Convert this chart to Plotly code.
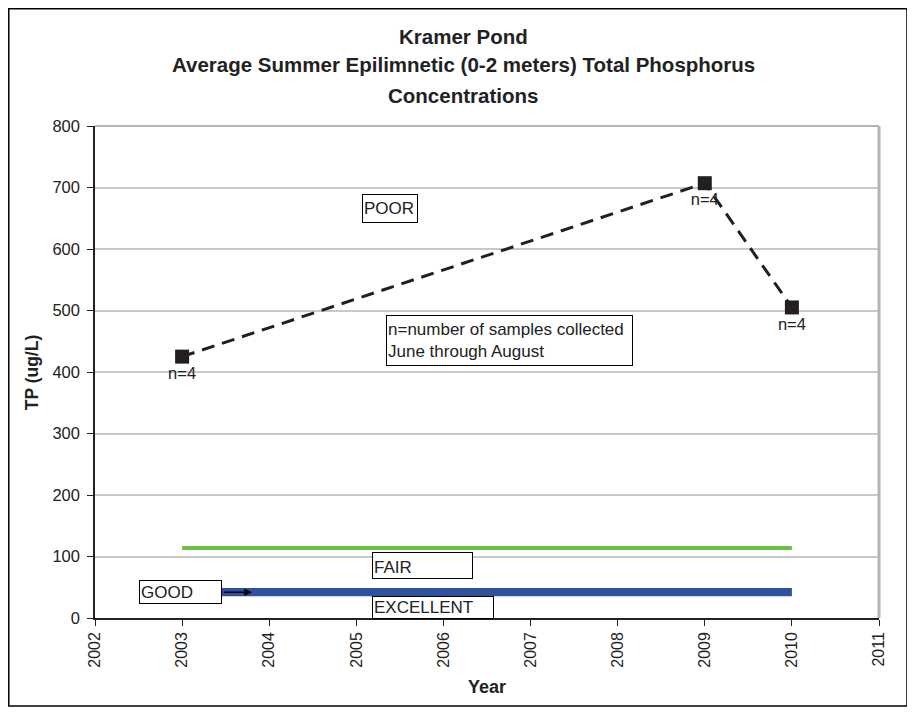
import plotly.graph_objects as go

# ---- data ----
years = [2003, 2009, 2010]
tp_values = [425, 707, 505]
n_labels = ["n=4", "n=4", "n=4"]

threshold_years = [2003, 2010]
fair_poor_line = [114, 114]
excellent_good_upper = [45, 45]
excellent_good_lower = [39, 39]

x_ticks = list(range(2002, 2012))
y_ticks = list(range(0, 801, 100))

title_lines = ["Kramer Pond",
               "Average Summer Epilimnetic (0-2 meters) Total Phosphorus",
               "Concentrations"]
x_title = "Year"
y_title = "TP (ug/L)"

FONT = "Liberation Sans, Arial, sans-serif"
TXT = "#222"

fig = go.Figure()

fig.add_trace(go.Scatter(x=threshold_years, y=fair_poor_line, mode="lines",
                         line=dict(color="#6abf45", width=4), showlegend=False, hoverinfo="skip"))
fig.add_trace(go.Scatter(x=threshold_years, y=excellent_good_lower, mode="lines",
                         line=dict(color="#2f52a0", width=4.5), showlegend=False, hoverinfo="skip"))
fig.add_trace(go.Scatter(x=threshold_years, y=excellent_good_upper, mode="lines",
                         line=dict(color="#2f52a0", width=4.5), showlegend=False, hoverinfo="skip"))

fig.add_trace(go.Scatter(
    x=years, y=tp_values, mode="lines+markers+text",
    line=dict(color="#231f20", width=3, dash="13px,8px"),
    marker=dict(symbol="square", size=14, color="#231f20"),
    text=n_labels, textposition="bottom center",
    textfont=dict(family=FONT, size=16.5, color=TXT),
    showlegend=False,
))

box_style = dict(bordercolor="#000", borderwidth=1, borderpad=1, bgcolor="white",
                 showarrow=False, xref="x", yref="y", xanchor="left", yanchor="top",
                 align="left", font=dict(family=FONT, size=17, color=TXT))

fig.add_annotation(text="POOR", x=2005.07, y=689, width=52, height=25, valign="middle", **box_style)
fig.add_annotation(text="n=number of samples collected<br>June through August",
                   x=2005.34, y=493, width=243, height=47, valign="middle", **box_style)
fig.add_annotation(text="FAIR", x=2005.18, y=107, width=97, height=23, valign="bottom", **box_style)
fig.add_annotation(text="GOOD", x=2002.51, y=62, width=79, height=20, valign="bottom", **box_style)
fig.add_annotation(text="EXCELLENT", x=2005.18, y=36, width=118, height=19, valign="bottom", **box_style)

# arrow from GOOD box
fig.add_annotation(x=2003.8, y=42, ax=2003.46, ay=42, xref="x", yref="y", axref="x", ayref="y",
                   text="", showarrow=True, arrowhead=2, arrowsize=1, arrowwidth=1.5, arrowcolor="#000")

# title lines
title_y = [1.181, 1.124, 1.063]
for line, ty in zip(title_lines, title_y):
    fig.add_annotation(text="<b>" + line + "</b>", xref="paper", yref="paper", x=0.47, y=ty,
                       xanchor="center", yanchor="middle", showarrow=False,
                       font=dict(family=FONT, size=20.5, color=TXT))

# axis titles
fig.add_annotation(text="<b>" + y_title + "</b>", xref="paper", yref="paper", x=-0.080, y=0.5,
                   textangle=-90, xanchor="center", yanchor="middle", showarrow=False,
                   font=dict(family=FONT, size=17.5, color=TXT))
fig.add_annotation(text="<b>" + x_title + "</b>", xref="paper", yref="paper", x=0.5, y=-0.140,
                   xanchor="center", yanchor="middle", showarrow=False,
                   font=dict(family=FONT, size=18, color=TXT))

# plot area top/right border
fig.add_shape(type="line", xref="x domain", yref="y domain", x0=0, x1=1, y0=1, y1=1,
              line=dict(color="#b4b4b4", width=2))
fig.add_shape(type="line", xref="x domain", yref="y domain", x0=1, x1=1, y0=0, y1=1,
              line=dict(color="#b4b4b4", width=3))
# outer chart border
fig.add_shape(type="rect", xref="paper", yref="paper", x0=-0.110, x1=1.0357, y0=-0.1789, y1=1.2383,
              line=dict(color="#000", width=1.5))

fig.update_layout(
    width=907, height=707,
    margin=dict(l=87, r=36, t=118, b=97),
    paper_bgcolor="white", plot_bgcolor="white",
    font=dict(family=FONT, size=16, color=TXT),
    xaxis=dict(range=[2002, 2011], tickvals=x_ticks, ticktext=[str(v) for v in x_ticks],
               tickangle=-90, showgrid=False, zeroline=False,
               showline=True, linecolor="#222", linewidth=1.5,
               ticks="outside", ticklen=6, tickcolor="#222",
               tickfont=dict(size=16)),
    yaxis=dict(range=[0, 800], tickvals=y_ticks, showgrid=True, gridcolor="#c8c8c8", gridwidth=1.5,
               zeroline=False, showline=True, linecolor="#222", linewidth=1.5,
               ticks="outside", ticklen=6, tickcolor="#222", ticklabelstandoff=4,
               tickfont=dict(size=16.5)),
)

fig.write_html("out.html")
